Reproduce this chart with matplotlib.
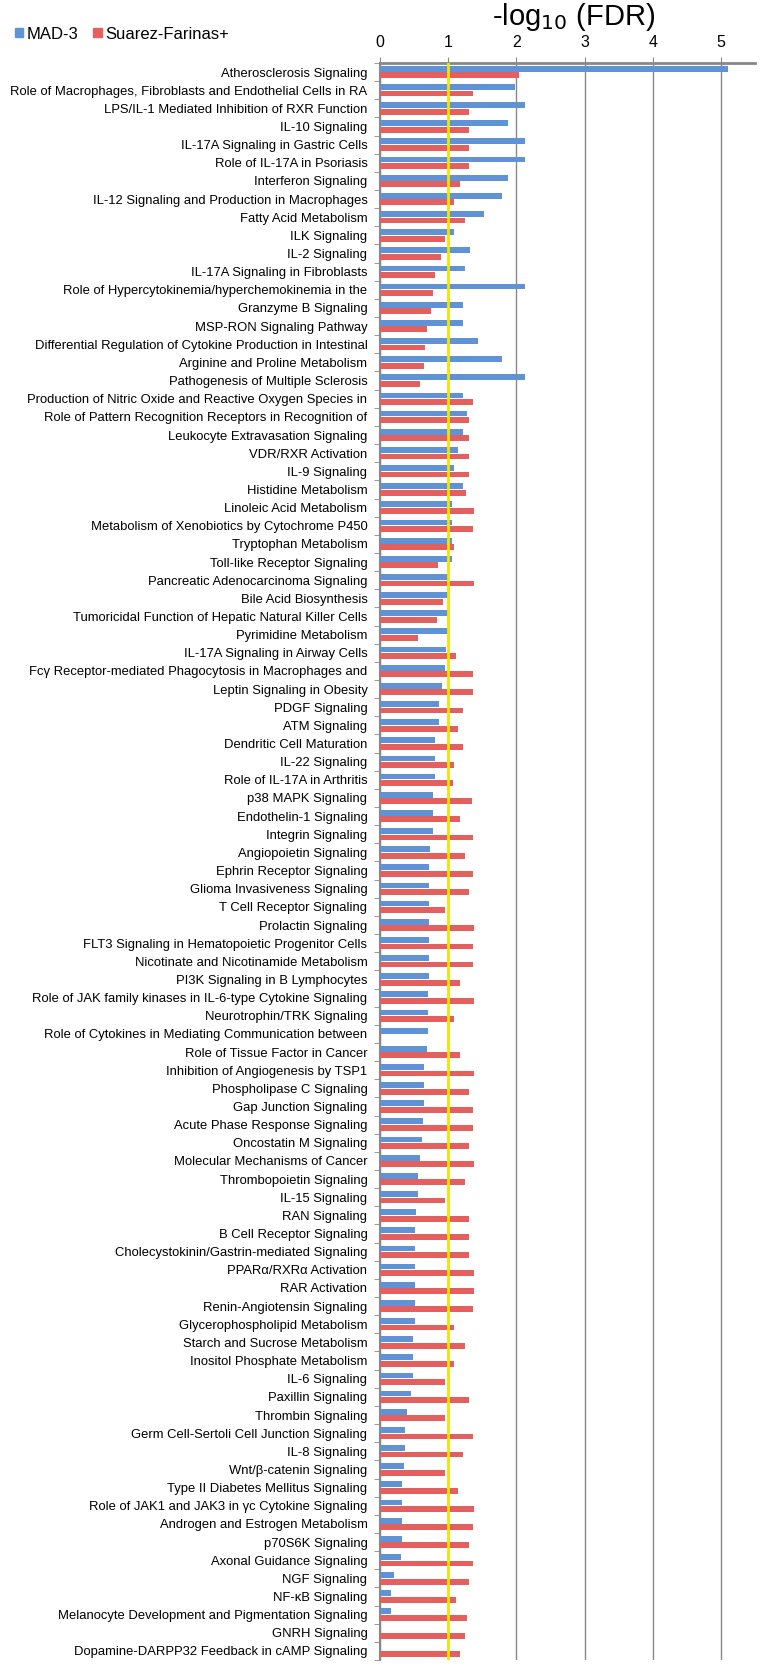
import numpy as np
import matplotlib
matplotlib.use("Agg")
import matplotlib.pyplot as plt
from matplotlib.patches import Patch

matplotlib.rcParams['font.family'] = ['Liberation Sans', 'DejaVu Sans']

pathways = [
    "Atherosclerosis Signaling",
    "Role of Macrophages, Fibroblasts and Endothelial Cells in RA",
    "LPS/IL-1 Mediated Inhibition of RXR Function",
    "IL-10 Signaling",
    "IL-17A Signaling in Gastric Cells",
    "Role of IL-17A in Psoriasis",
    "Interferon Signaling",
    "IL-12 Signaling and Production in Macrophages",
    "Fatty Acid Metabolism",
    "ILK Signaling",
    "IL-2 Signaling",
    "IL-17A Signaling in Fibroblasts",
    "Role of Hypercytokinemia/hyperchemokinemia in the",
    "Granzyme B Signaling",
    "MSP-RON Signaling Pathway",
    "Differential Regulation of Cytokine Production in Intestinal",
    "Arginine and Proline Metabolism",
    "Pathogenesis of Multiple Sclerosis",
    "Production of Nitric Oxide and Reactive Oxygen Species in",
    "Role of Pattern Recognition Receptors in Recognition of",
    "Leukocyte Extravasation Signaling",
    "VDR/RXR Activation",
    "IL-9 Signaling",
    "Histidine Metabolism",
    "Linoleic Acid Metabolism",
    "Metabolism of Xenobiotics by Cytochrome P450",
    "Tryptophan Metabolism",
    "Toll-like Receptor Signaling",
    "Pancreatic Adenocarcinoma Signaling",
    "Bile Acid Biosynthesis",
    "Tumoricidal Function of Hepatic Natural Killer Cells",
    "Pyrimidine Metabolism",
    "IL-17A Signaling in Airway Cells",
    "Fcγ Receptor-mediated Phagocytosis in Macrophages and",
    "Leptin Signaling in Obesity",
    "PDGF Signaling",
    "ATM Signaling",
    "Dendritic Cell Maturation",
    "IL-22 Signaling",
    "Role of IL-17A in Arthritis",
    "p38 MAPK Signaling",
    "Endothelin-1 Signaling",
    "Integrin Signaling",
    "Angiopoietin Signaling",
    "Ephrin Receptor Signaling",
    "Glioma Invasiveness Signaling",
    "T Cell Receptor Signaling",
    "Prolactin Signaling",
    "FLT3 Signaling in Hematopoietic Progenitor Cells",
    "Nicotinate and Nicotinamide Metabolism",
    "PI3K Signaling in B Lymphocytes",
    "Role of JAK family kinases in IL-6-type Cytokine Signaling",
    "Neurotrophin/TRK Signaling",
    "Role of Cytokines in Mediating Communication between",
    "Role of Tissue Factor in Cancer",
    "Inhibition of Angiogenesis by TSP1",
    "Phospholipase C Signaling",
    "Gap Junction Signaling",
    "Acute Phase Response Signaling",
    "Oncostatin M Signaling",
    "Molecular Mechanisms of Cancer",
    "Thrombopoietin Signaling",
    "IL-15 Signaling",
    "RAN Signaling",
    "B Cell Receptor Signaling",
    "Cholecystokinin/Gastrin-mediated Signaling",
    "PPARα/RXRα Activation",
    "RAR Activation",
    "Renin-Angiotensin Signaling",
    "Glycerophospholipid Metabolism",
    "Starch and Sucrose Metabolism",
    "Inositol Phosphate Metabolism",
    "IL-6 Signaling",
    "Paxillin Signaling",
    "Thrombin Signaling",
    "Germ Cell-Sertoli Cell Junction Signaling",
    "IL-8 Signaling",
    "Wnt/β-catenin Signaling",
    "Type II Diabetes Mellitus Signaling",
    "Role of JAK1 and JAK3 in γc Cytokine Signaling",
    "Androgen and Estrogen Metabolism",
    "p70S6K Signaling",
    "Axonal Guidance Signaling",
    "NGF Signaling",
    "NF-κB Signaling",
    "Melanocyte Development and Pigmentation Signaling",
    "GNRH Signaling",
    "Dopamine-DARPP32 Feedback in cAMP Signaling",
]

# -log10(FDR), MAD-3
mad3 = [
    5.10, 1.98, 2.13, 1.87, 2.12, 2.12, 1.87, 1.79, 1.53, 1.08,
    1.32, 1.24, 2.12, 1.21, 1.21, 1.44, 1.79, 2.12, 1.21, 1.28,
    1.21, 1.15, 1.09, 1.22, 1.05, 1.05, 1.05, 1.05, 0.99, 1.00,
    1.00, 1.00, 0.97, 0.96, 0.91, 0.87, 0.87, 0.80, 0.80, 0.80,
    0.78, 0.78, 0.78, 0.74, 0.72, 0.72, 0.72, 0.72, 0.72, 0.72,
    0.72, 0.70, 0.70, 0.70, 0.69, 0.65, 0.65, 0.64, 0.63, 0.61,
    0.58, 0.56, 0.56, 0.53, 0.51, 0.51, 0.51, 0.51, 0.51, 0.51,
    0.48, 0.48, 0.48, 0.46, 0.39, 0.36, 0.36, 0.35, 0.33, 0.33,
    0.33, 0.33, 0.31, 0.21, 0.16, 0.16, 0.0, 0.0,
]

# -log10(FDR), Suarez-Farinas+
suarez = [
    2.03, 1.37, 1.31, 1.31, 1.31, 1.31, 1.17, 1.08, 1.24, 0.96,
    0.90, 0.80, 0.78, 0.75, 0.69, 0.66, 0.64, 0.58, 1.37, 1.31,
    1.31, 1.31, 1.31, 1.26, 1.38, 1.37, 1.08, 0.85, 1.38, 0.92,
    0.83, 0.56, 1.12, 1.37, 1.37, 1.22, 1.15, 1.22, 1.08, 1.07,
    1.35, 1.17, 1.37, 1.24, 1.37, 1.31, 0.96, 1.38, 1.37, 1.37,
    1.17, 1.38, 1.08, 0.0, 1.17, 1.38, 1.31, 1.37, 1.37, 1.31,
    1.38, 1.24, 0.96, 1.31, 1.31, 1.31, 1.38, 1.38, 1.37, 1.08,
    1.24, 1.08, 0.96, 1.31, 0.96, 1.37, 1.22, 0.96, 1.15, 1.38,
    1.37, 1.31, 1.37, 1.31, 1.12, 1.27, 1.24, 1.17,
]

fig = plt.figure(figsize=(7.63, 16.66), dpi=100)
ax = fig.add_axes([0.498, 0.0036, 0.492, 0.9586])

y = np.arange(len(pathways))
h = 0.32
ax.barh(y - h / 2 - 0.02, mad3, height=h, color='#6093d6', zorder=3)
ax.barh(y + h / 2 + 0.02, suarez, height=h, color='#e3605f', zorder=3)
ax.axvline(1, color='#f2e600', lw=2, zorder=4)

ax.set_xlim(0, 5.5)
ax.set_ylim(len(pathways) - 0.5, -0.5)
ax.set_xticks(range(6))
ax.xaxis.tick_top()
ax.tick_params(axis='x', which='major', length=4, color='#888888', labelsize=11.5, pad=5)
ax.grid(axis='x', color='#888888', lw=1, zorder=0)

ax.set_yticks(y)
ax.set_yticklabels(pathways, fontsize=9.4)
ax.set_yticks(np.arange(-0.5, len(pathways), 1), minor=True)
ax.tick_params(axis='y', which='major', length=0, pad=9)
ax.tick_params(axis='y', which='minor', length=4, color='#888888')

for s in ['right', 'bottom']:
    ax.spines[s].set_visible(False)
ax.spines['top'].set_color('#888888')
ax.spines['top'].set_linewidth(2)
ax.spines['left'].set_color('#888888')
ax.spines['left'].set_linewidth(1.5)

fig.text(0.752, 0.9895, '-log$_{10}$ (FDR)', fontsize=21, ha='center', va='center')

handles = [Patch(color='#6093d6', label='MAD-3'), Patch(color='#e3605f', label='Suarez-Farinas+')]
fig.legend(handles=handles, loc='upper left', bbox_to_anchor=(0.0, 0.993), ncol=2, frameon=False,
           fontsize=12, handlelength=0.5, handleheight=0.5, handletextpad=0.2, columnspacing=0.9)

plt.savefig('out.png', dpi=100)
